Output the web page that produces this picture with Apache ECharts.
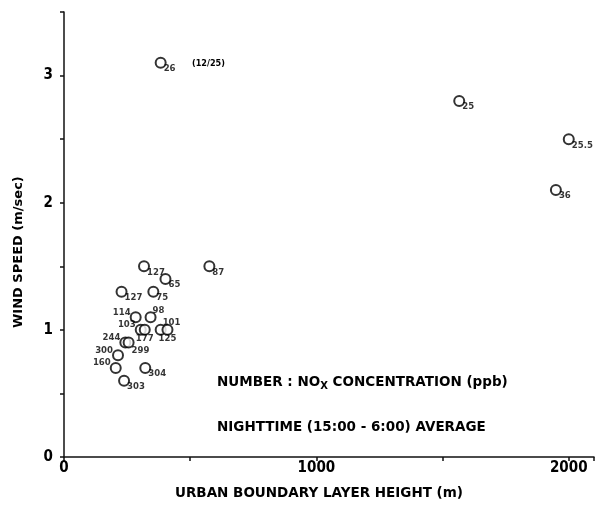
<!DOCTYPE html>
<html lang="en">
<head>
    <meta charset="UTF-8">
    <title>Wind speed vs urban boundary layer height</title>
    <script src="https://cdn.jsdelivr.net/npm/echarts@6/dist/echarts.min.js"></script>
    <style>
        html, body { margin: 0; padding: 0; background: #fff; }
        #main { width: 597px; height: 507px; }
    </style>
</head>
<body>
<div id="main"></div>
<script>
    // boundary layer height (m), wind speed (m/s), NOx label (ppb)
    var heights = [383, 1566, 2000, 1949, 576, 317, 402, 228, 354, 284, 343, 304, 320, 383, 410, 243, 256, 214, 205, 322, 238];
    var speeds  = [3.1, 2.8, 2.5, 2.1, 1.5, 1.5, 1.4, 1.3, 1.3, 1.1, 1.1, 1.0, 1.0, 1.0, 1.0, 0.9, 0.9, 0.8, 0.7, 0.7, 0.6];
    var noxLabels = ['26', '25', '25.5', '36', '87', '127', '65', '127', '75', '114', '98', '103', '177', '101', '125', '244', '299', '300', '160', '304', '303'];

    // where each label sits around its circle
    var labelSide = ['sub', 'sub', 'sub', 'sub', 'sub', 'sub', 'sub', 'sub', 'sub', 'left', 'sup', 'left', 'below', 'sup', 'below', 'left', 'belowRight', 'left', 'left', 'sub', 'sub'];

    var xTicks = ['0', '1000', '2000'];
    var yTicks = ['0', '1', '2', '3'];

    var NARROW = 'DejaVu Sans Condensed, DejaVu Sans, sans-serif';
    var WIDE = 'DejaVu Sans, sans-serif';
    var SYM = 10;

    // offsets from the circle centre
    var sides = {
        sub:        { dx: 4,  dy: 7,  align: 'left' },
        left:       { dx: -4, dy: -4, align: 'right' },
        sup:        { dx: 3,  dy: -6, align: 'left' },
        below:      { dx: 1,  dy: 10, align: 'center' },
        belowRight: { dx: 4,  dy: 9,  align: 'left' }
    };

    var points = heights.map(function (h, i) {
        var s = sides[labelSide[i]];
        return {
            value: [h, speeds[i]],
            label: {
                show: true,
                formatter: noxLabels[i],
                position: [SYM / 2 + s.dx, SYM / 2 + s.dy],
                align: s.align,
                verticalAlign: 'middle',
                fontSize: 9.5,
                fontWeight: 'bold',
                fontFamily: NARROW,
                color: '#000'
            }
        };
    });

    var myChart = echarts.init(document.getElementById('main'));
    myChart.setOption({
        backgroundColor: '#fff',
        animation: false,
        grid: { left: 64, right: 0, top: 12, bottom: 50 },
        xAxis: {
            type: 'value',
            min: 0,
            max: 2100,
            interval: 500,
            splitLine: { show: false },
            axisLine: { lineStyle: { color: '#111', width: 1.5 } },
            axisTick: { inside: false, length: 4, lineStyle: { color: '#111', width: 1.5 } },
            axisLabel: {
                margin: 4,
                fontSize: 15,
                fontWeight: 'bold',
                fontFamily: NARROW,
                color: '#000',
                formatter: function (v) {
                    return xTicks.indexOf(String(v)) >= 0 ? String(v) : '';
                }
            }
        },
        yAxis: {
            type: 'value',
            min: 0,
            max: 3.5,
            interval: 0.5,
            splitLine: { show: false },
            axisLine: { lineStyle: { color: '#111', width: 1.5 } },
            axisTick: { inside: false, length: 4, lineStyle: { color: '#111', width: 1.5 } },
            axisLabel: {
                margin: 11,
                fontSize: 15,
                fontWeight: 'bold',
                fontFamily: NARROW,
                color: '#000',
                formatter: function (v) {
                    return yTicks.indexOf(String(v)) >= 0 ? String(v) : '';
                }
            }
        },
        series: [{
            type: 'scatter',
            symbol: 'circle',
            symbolSize: SYM,
            itemStyle: { color: '#fff', borderColor: '#000', borderWidth: 2 },
            data: points
        }],
        graphic: [
            {
                type: 'text', left: 175, top: 486,
                style: { text: 'URBAN BOUNDARY LAYER HEIGHT (m)', font: 'bold 13.5px ' + WIDE, fill: '#000' }
            },
            {
                type: 'text', x: 12, y: 328, rotation: Math.PI / 2,
                style: { text: 'WIND SPEED (m/sec)', font: 'bold 13px ' + WIDE, fill: '#000' }
            },
            {
                type: 'text', left: 192, top: 59,
                style: { text: '(12/25)', font: 'bold 9px ' + NARROW, fill: '#000' }
            },
            {
                type: 'text', left: 217, top: 375,
                style: {
                    text: '{t|NUMBER : NO}{s|X}{t| CONCENTRATION (ppb)}',
                    rich: {
                        t: { font: 'bold 13.5px ' + WIDE, fill: '#000' },
                        s: { font: 'bold 10px ' + WIDE, fill: '#000', padding: [8, 0, 0, 0] }
                    }
                }
            },
            {
                type: 'text', left: 217, top: 420,
                style: { text: 'NIGHTTIME (15:00 - 6:00) AVERAGE', font: 'bold 13.5px ' + WIDE, fill: '#000' }
            }
        ]
    });
</script>
</body>
</html>
